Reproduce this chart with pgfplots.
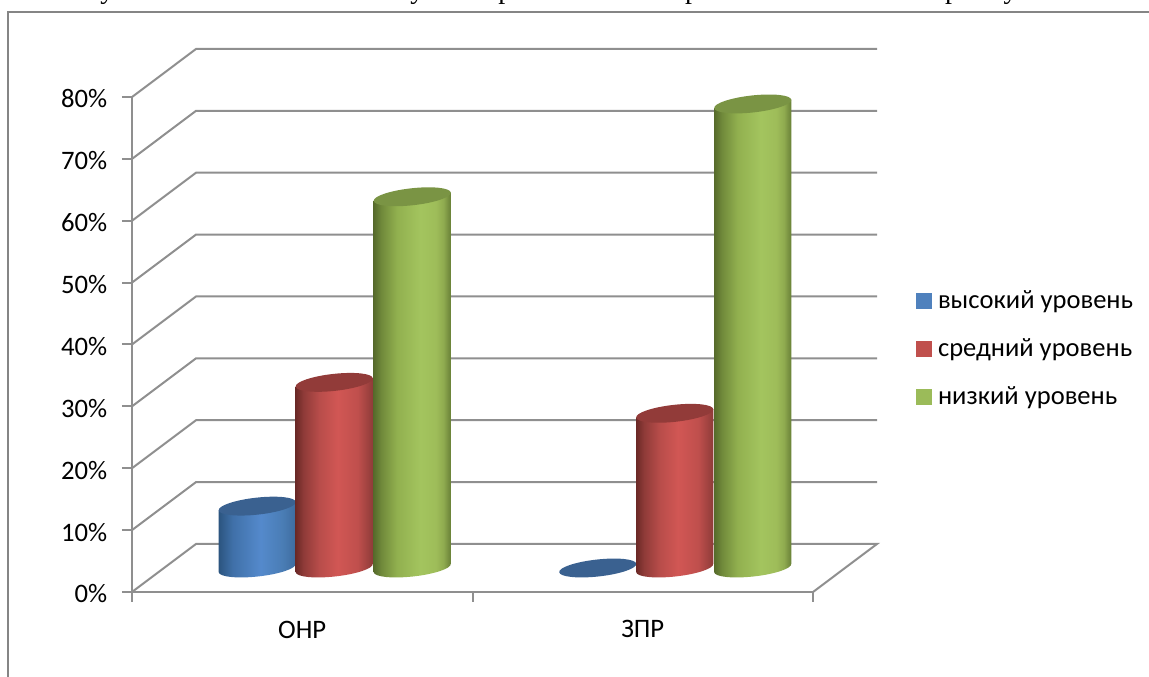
\documentclass[border=0pt]{standalone}
\usepackage{pgfplots}
\pgfplotsset{compat=1.18}
\usepackage{pgfplotstable}
\usepackage{fontspec}
\setmainfont{Carlito}
\newfontfamily\bodyserif{Liberation Serif}

% Series values, in percent
\pgfplotstableread{
cat share
0.5 10
1.5 0
}\highlevel
\pgfplotstableread{
cat share
0.5 30
1.5 25
}\midlevel
\pgfplotstableread{
cat share
0.5 60
1.5 75
}\lowlevel

\definecolor{wallgray}{HTML}{8F8F8F}
\definecolor{framegray}{HTML}{858585}
\definecolor{capblue}{HTML}{3A6190}
\definecolor{capred}{HTML}{923B39}
\definecolor{capgreen}{HTML}{7A9444}
\definecolor{keyblue}{HTML}{4F81BD}
\definecolor{keyred}{HTML}{C0504D}
\definecolor{keygreen}{HTML}{9BBB59}

\pgfdeclarehorizontalshading{cylblue}{100bp}{rgb(0bp)=(0.17,0.33,0.50); rgb(25bp)=(0.17,0.33,0.50); rgb(34bp)=(0.25,0.44,0.66); rgb(52bp)=(0.33,0.54,0.80); rgb(66bp)=(0.29,0.49,0.71); rgb(75bp)=(0.24,0.42,0.62); rgb(100bp)=(0.24,0.42,0.62)}
\pgfdeclarehorizontalshading{cylred}{100bp}{rgb(0bp)=(0.42,0.16,0.15); rgb(25bp)=(0.42,0.16,0.15); rgb(30bp)=(0.56,0.23,0.22); rgb(40bp)=(0.72,0.30,0.29); rgb(52bp)=(0.82,0.34,0.33); rgb(65bp)=(0.75,0.31,0.30); rgb(75bp)=(0.55,0.23,0.22); rgb(100bp)=(0.55,0.23,0.22)}
\pgfdeclarehorizontalshading{cylgreen}{100bp}{rgb(0bp)=(0.34,0.42,0.17); rgb(25bp)=(0.34,0.42,0.17); rgb(30bp)=(0.44,0.54,0.23); rgb(40bp)=(0.57,0.69,0.31); rgb(55bp)=(0.64,0.77,0.37); rgb(65bp)=(0.62,0.74,0.35); rgb(70bp)=(0.56,0.67,0.31); rgb(75bp)=(0.40,0.49,0.21); rgb(100bp)=(0.40,0.49,0.21)}

\newdimen\cylh
% Cylinder standing on the floor of the box; the mark sits at the centre of its top
\pgfdeclareplotmark{cylinder}{%
  \pgftransformxshift{\cylshift}\pgftransformyshift{18pt}%
  \cylh=\shareval pt\relax
  \cylh=4.640625\cylh\relax
  \ifdim\cylh>0pt\relax
    \pgfpathmoveto{\pgfpoint{-28.9pt}{-3.15pt}}%
    \pgfpathlineto{\pgfpoint{-28.9pt}{-\cylh-3.15pt}}%
    \pgfpathcurveto{\pgfpoint{-28.52pt}{-\cylh-6.65pt}}{\pgfpoint{-15.27pt}{-\cylh-8.08pt}}{\pgfpoint{0.69pt}{-\cylh-6.34pt}}%
    \pgfpathcurveto{\pgfpoint{16.65pt}{-\cylh-4.60pt}}{\pgfpoint{29.28pt}{-\cylh-0.35pt}}{\pgfpoint{28.9pt}{-\cylh+3.15pt}}%
    \pgfpathlineto{\pgfpoint{28.9pt}{3.15pt}}%
    \pgfpathclose
    \pgfshadepath{\cylshade}{0}%
    \pgfusepath{discard}%
  \fi
  \pgfsetfillcolor{\cylcap}%
  \pgfpathellipse{\pgfpointorigin}{\pgfpoint{28.9pt}{3.15pt}}{\pgfpoint{-0.69pt}{6.34pt}}%
  \pgfusepath{fill}%
}

\pgfplotsset{
  cylinder series/.style n args={3}{
    forget plot, scatter, only marks, mark=cylinder,
    visualization depends on={\thisrow{share} \as \shareval},
    scatter/@pre marker code/.append code={%
      \def\cylshift{#1}\def\cylshade{#2}\def\cylcap{#3}%
    },
  },
  key square/.style={
    legend image code/.code={\path (14.25pt,0pt); \fill[#1] (0pt,-5.6pt) rectangle (11.25pt,5.65pt);},
  },
}

\begin{document}
\begin{tikzpicture}
  \path[use as bounding box] (0,0) rectangle (861.75pt,507.75pt);
  % Outer frame of the chart
  \draw[framegray,line width=1.4pt] (6pt,0pt) -- (6pt,498.5pt) -- (861.75pt,498.5pt);
  % Foot of the text line above the chart, cut by the page edge
  \begin{scope}[every node/.style={anchor=base,inner sep=0pt,font=\bodyserif\fontsize{21}{24}\selectfont}]
    \node at (80.5pt,509pt) {у};
    \node at (313pt,509pt) {у};
    \node at (379pt,509pt) {р};
    \node at (519pt,509pt) {р};
    \node at (714pt,509pt) {р};
    \node at (758pt,509pt) {у};
  \end{scope}
  \begin{axis}[
    at={(99pt,63.75pt)}, anchor=south west,
    scale only axis, width=510.75pt, height=371.25pt,
    xmin=0, xmax=2, ymin=0, ymax=80,
    clip=false,
    axis lines*=left,
    axis line style={wallgray,line width=1.6pt},
    tick style={wallgray,line width=1.5pt},
    major tick length=7.5pt,
    tick align=outside,
    xtick={0,1,2}, xticklabels={},
    extra x ticks={0.5,1.5},
    extra x tick labels={ОНР,ЗПР},
    extra x tick style={major tick length=0pt,tick label style={yshift=-18pt}},
    ytick={0,10,...,80},
    yticklabels={0\%,10\%,20\%,30\%,40\%,50\%,60\%,70\%,80\%},
    y tick label style={xshift=-7.5pt,yshift=-1.5pt},
    ticklabel style={font=\fontsize{20}{24}\selectfont,text=black},
    legend style={
      at={(1.1506,0.4915)}, anchor=west, draw=none, fill=none,
      font=\fontsize{19.9}{24}\selectfont,
      row sep=17pt, inner sep=0pt,
    },
    legend cell align=left,
  ]
    % Side and back walls, floor included
    \addplot[forget plot,wallgray,line width=1.5pt] coordinates {(0,0)(0.188,7.76)(2.188,7.76)(2,0)};
    \addplot[forget plot,wallgray,line width=1.5pt] coordinates {(0,10)(0.188,17.76)(2.188,17.76)};
    \addplot[forget plot,wallgray,line width=1.5pt] coordinates {(0,20)(0.188,27.76)(2.188,27.76)};
    \addplot[forget plot,wallgray,line width=1.5pt] coordinates {(0,30)(0.188,37.76)(2.188,37.76)};
    \addplot[forget plot,wallgray,line width=1.5pt] coordinates {(0,40)(0.188,47.76)(2.188,47.76)};
    \addplot[forget plot,wallgray,line width=1.5pt] coordinates {(0,50)(0.188,57.76)(2.188,57.76)};
    \addplot[forget plot,wallgray,line width=1.5pt] coordinates {(0,60)(0.188,67.76)(2.188,67.76)};
    \addplot[forget plot,wallgray,line width=1.5pt] coordinates {(0,70)(0.188,77.76)(2.188,77.76)};
    \addplot[forget plot,wallgray,line width=1.5pt] coordinates {(0,80)(0.188,87.76)(2.188,87.76)};

    \addplot[cylinder series={-33.75pt}{cylblue}{capblue}] table[x=cat,y=share] {\highlevel};
    \addplot[cylinder series={24pt}{cylred}{capred}] table[x=cat,y=share] {\midlevel};
    \addplot[cylinder series={82.5pt}{cylgreen}{capgreen}] table[x=cat,y=share] {\lowlevel};

    \addlegendimage{key square=keyblue}
    \addlegendentry{высокий уровень}
    \addlegendimage{key square=keyred}
    \addlegendentry{средний уровень}
    \addlegendimage{key square=keygreen}
    \addlegendentry{низкий уровень}
  \end{axis}
\end{tikzpicture}
\end{document}
